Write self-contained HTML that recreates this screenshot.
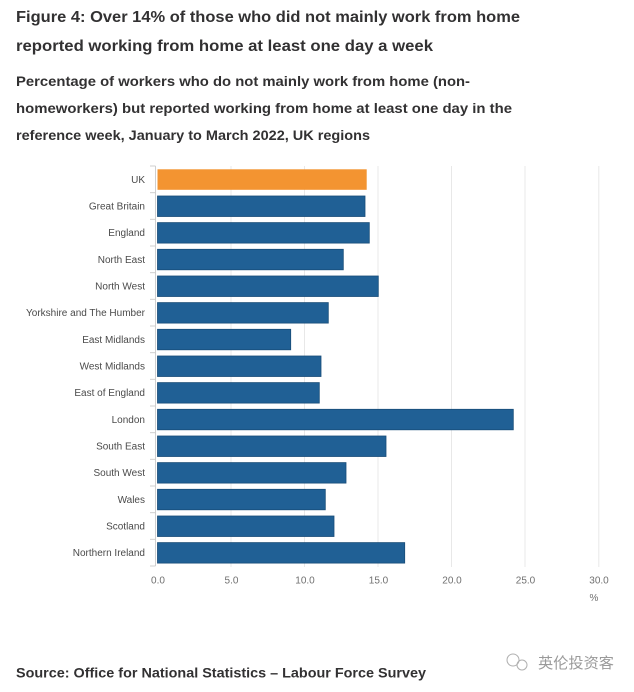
<!DOCTYPE html>
<html><head><meta charset="utf-8"><style>
html,body{margin:0;padding:0;background:#fff;}
svg{display:block;}
</style></head><body>
<svg width="634" height="692" viewBox="0 0 634 692" xmlns="http://www.w3.org/2000/svg">
<rect width="634" height="692" fill="#fff"/>
<g font-family="Liberation Sans, sans-serif" font-weight="bold" fill="#323132">
<text x="16" y="22" font-size="15.5" textLength="504" lengthAdjust="spacingAndGlyphs">Figure 4: Over 14% of those who did not mainly work from home</text>
<text x="16" y="51" font-size="15.5" textLength="417" lengthAdjust="spacingAndGlyphs">reported working from home at least one day a week</text>
<text x="16" y="86" font-size="14" textLength="454" lengthAdjust="spacingAndGlyphs">Percentage of workers who do not mainly work from home (non-</text>
<text x="16" y="113" font-size="14" textLength="496" lengthAdjust="spacingAndGlyphs">homeworkers) but reported working from home at least one day in the</text>
<text x="16" y="140" font-size="14" textLength="354" lengthAdjust="spacingAndGlyphs">reference week, January to March 2022, UK regions</text>
<text x="16" y="677.5" font-size="14" textLength="410" lengthAdjust="spacingAndGlyphs">Source: Office for National Statistics – Labour Force Survey</text>
</g>
<!-- gridlines -->
<g stroke="#e8e8e8" stroke-width="1">
<line x1="231" y1="166" x2="231" y2="567"/>
<line x1="304.5" y1="166" x2="304.5" y2="567"/>
<line x1="378" y1="166" x2="378" y2="567"/>
<line x1="451.5" y1="166" x2="451.5" y2="567"/>
<line x1="525" y1="166" x2="525" y2="567"/>
<line x1="598.8" y1="166" x2="598.8" y2="567"/>
</g>
<!-- axis -->
<g stroke="#cfcfcf" stroke-width="1">
<line x1="155.5" y1="166" x2="155.5" y2="566"/>
<line x1="150" y1="166" x2="155.5" y2="166"/>
<line x1="150" y1="192.67" x2="155.5" y2="192.67"/>
<line x1="150" y1="219.33" x2="155.5" y2="219.33"/>
<line x1="150" y1="246" x2="155.5" y2="246"/>
<line x1="150" y1="272.67" x2="155.5" y2="272.67"/>
<line x1="150" y1="299.33" x2="155.5" y2="299.33"/>
<line x1="150" y1="326" x2="155.5" y2="326"/>
<line x1="150" y1="352.67" x2="155.5" y2="352.67"/>
<line x1="150" y1="379.33" x2="155.5" y2="379.33"/>
<line x1="150" y1="406" x2="155.5" y2="406"/>
<line x1="150" y1="432.67" x2="155.5" y2="432.67"/>
<line x1="150" y1="459.33" x2="155.5" y2="459.33"/>
<line x1="150" y1="486" x2="155.5" y2="486"/>
<line x1="150" y1="512.67" x2="155.5" y2="512.67"/>
<line x1="150" y1="539.33" x2="155.5" y2="539.33"/>
<line x1="150" y1="566" x2="155.5" y2="566"/>
</g>
<!-- bars -->
<rect x="157.5" y="169.3" width="209.2" height="20.5" fill="#f39431"/>
<g fill="#206095" stroke="#184c78" stroke-width="0.8">
<rect x="157.5" y="196" width="207.5" height="20.5"/>
<rect x="157.5" y="222.6" width="211.8" height="20.5"/>
<rect x="157.5" y="249.3" width="185.8" height="20.5"/>
<rect x="157.5" y="276" width="220.8" height="20.5"/>
<rect x="157.5" y="302.6" width="170.8" height="20.5"/>
<rect x="157.5" y="329.3" width="133.2" height="20.5"/>
<rect x="157.5" y="356" width="163.5" height="20.5"/>
<rect x="157.5" y="382.6" width="161.8" height="20.5"/>
<rect x="157.5" y="409.3" width="355.8" height="20.5"/>
<rect x="157.5" y="436" width="228.5" height="20.5"/>
<rect x="157.5" y="462.6" width="188.5" height="20.5"/>
<rect x="157.5" y="489.3" width="167.8" height="20.5"/>
<rect x="157.5" y="516" width="176.5" height="20.5"/>
<rect x="157.5" y="542.6" width="247.2" height="20.5"/>
</g>
<!-- category labels -->
<g font-family="Liberation Sans, sans-serif" font-size="10" fill="#4a4a4a" text-anchor="end">
<text x="145" y="182.8">UK</text>
<text x="145" y="209.5">Great Britain</text>
<text x="145" y="236.1">England</text>
<text x="145" y="262.8">North East</text>
<text x="145" y="289.5">North West</text>
<text x="145" y="316.1">Yorkshire and The Humber</text>
<text x="145" y="342.8">East Midlands</text>
<text x="145" y="369.5">West Midlands</text>
<text x="145" y="396.1">East of England</text>
<text x="145" y="422.8">London</text>
<text x="145" y="449.5">South East</text>
<text x="145" y="476.1">South West</text>
<text x="145" y="502.8">Wales</text>
<text x="145" y="529.5">Scotland</text>
<text x="145" y="556.1">Northern Ireland</text>
</g>
<!-- x tick labels -->
<g font-family="Liberation Sans, sans-serif" font-size="10" fill="#707070" text-anchor="middle">
<text x="158" y="583.5">0.0</text>
<text x="231.5" y="583.5">5.0</text>
<text x="305" y="583.5">10.0</text>
<text x="378.5" y="583.5">15.0</text>
<text x="452" y="583.5">20.0</text>
<text x="525.5" y="583.5">25.0</text>
<text x="599" y="583.5">30.0</text>
<text x="594" y="601">%</text>
</g>
<!-- watermark -->
<g fill="none" stroke="#b0b0b0" stroke-width="1">
<circle cx="513" cy="660" r="6"/>
<circle cx="522" cy="665" r="5"/>
</g>
<text x="538" y="668" font-family="Liberation Sans, 'Noto Sans CJK SC', sans-serif" font-size="15" fill="#9a9a9a" textLength="76" lengthAdjust="spacingAndGlyphs">英伦投资客</text>
</svg>
</body></html>
